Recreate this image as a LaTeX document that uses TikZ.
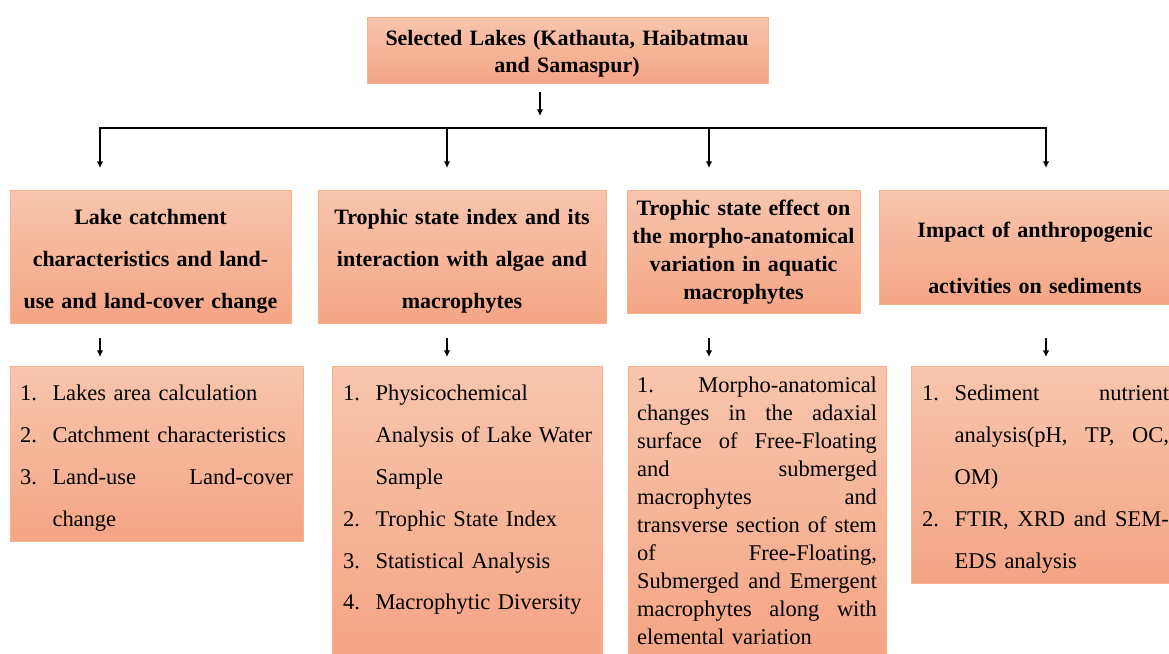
\documentclass[tikz,border=0pt]{standalone}
\usepackage{fontspec}
\setmainfont{Liberation Serif}
\usetikzlibrary{arrows.meta}

\definecolor{boxtop}{RGB}{248,197,174}
\definecolor{boxbot}{RGB}{244,165,132}
\definecolor{boxline}{RGB}{246,178,138}

\tikzset{
	box/.style={draw=boxline, line width=0.5pt, top color=boxtop, bottom color=boxbot, anchor=north west, inner sep=0pt},
	head/.style={font=\bfseries\fontsize{12.5}{#1}\selectfont, align=center, inner sep=0pt},
	list/.style={font=\fontsize{12.8}{#1}\selectfont, align=left, inner sep=0pt},
	arr/.style={-{Latex[length=3.8pt,width=3.8pt]}, line width=0.85pt}
}
\newcommand{\nr}[1]{\makebox[0.65cm][l]{#1}}
\newcommand{\ind}{\hspace*{0.65cm}}
\newcommand{\jl}[2]{\makebox[#1][s]{\spaceskip=0.25em plus 1fil\relax\xspaceskip=\spaceskip#2}}

\begin{document}
\begin{tikzpicture}[x=0.02cm, y=-0.02cm]
	\useasboundingbox (0,0) rectangle (1169,653);
	\clip (0,0) rectangle (1169,653);
	% boxes
	\node[box, minimum width=8.02cm, minimum height=1.32cm] (lakes) at (367,17) {};
	\node[box, minimum width=5.62cm, minimum height=2.66cm] (catch) at (10,190) {};
	\node[box, minimum width=5.76cm, minimum height=2.66cm] (tsi) at (318,190) {};
	\node[box, minimum width=4.66cm, minimum height=2.46cm] (morph) at (627,190) {};
	\node[box, minimum width=6.24cm, minimum height=2.28cm] (anthro) at (879,190) {};
	\node[box, minimum width=5.86cm, minimum height=3.50cm] (catchL) at (10,366) {};
	\node[box, minimum width=5.40cm, minimum height=5.88cm] (tsiL) at (332,366) {};
	\node[box, minimum width=5.16cm, minimum height=5.88cm] (morphL) at (628,366) {};
	\node[box, minimum width=5.60cm, minimum height=4.34cm] (anthroL) at (911,366) {};
	% headings
	\node[head=15.3, text width=8cm] (lakesT) at (567,53.5) {Selected Lakes (Kathauta, Haibatmau\\and Samaspur)};
	\node[head=23.8, text width=5.5cm] (catchT) at (150.5,261) {Lake catchment\\characteristics and land-\\use and land-cover change};
	\node[head=23.8, text width=5.6cm] (tsiT) at (462,261) {Trophic state index and its\\interaction with algae and\\macrophytes};
	\node[head=15.9, text width=4.6cm] (morphT) at (743.5,252) {Trophic state effect on\\the morpho-anatomical\\variation in aquatic\\macrophytes};
	\node[head=31.75, text width=6cm] (anthroT) at (1035,258) {Impact of anthropogenic\\activities on sediments};
	% lists
	\node[list=23.8, text width=5.46cm] (catchLT) at (156.5,458) {\nr{1.}Lakes area calculation\\
		\nr{2.}Catchment characteristics\\
		\nr{3.}\jl{4.81cm}{Land-use Land-cover}\\
		\ind change};
	\node[list=23.8, text width=4.98cm] (tsiLT) at (467.5,500) {\nr{1.}Physicochemical\\
		\ind\jl{4.33cm}{Analysis of Lake Water}\\
		\ind Sample\\
		\nr{2.}Trophic State Index\\
		\nr{3.}Statistical Analysis\\
		\nr{4.}Macrophytic Diversity};
	\node[list=15.9, text width=4.8cm] (morphLT) at (757,511) {\jl{4.8cm}{1. Morpho-anatomical}\\
		\jl{4.8cm}{changes in the adaxial}\\
		\jl{4.8cm}{surface of Free-Floating}\\
		\jl{4.8cm}{and submerged}\\
		\jl{4.8cm}{macrophytes and}\\
		\jl{4.8cm}{transverse section of stem}\\
		\jl{4.8cm}{of Free-Floating,}\\
		\jl{4.8cm}{Submerged and Emergent}\\
		\jl{4.8cm}{macrophytes along with}\\
		elemental variation};
	\node[list=23.8, text width=4.94cm] (anthroLT) at (1045.5,479) {\nr{1.}\jl{4.29cm}{Sediment nutrient}\\
		\ind\jl{4.29cm}{analysis(pH, TP, OC,}\\
		\ind OM)\\
		\nr{2.}\jl{4.29cm}{FTIR, XRD and SEM-}\\
		\ind EDS analysis};
	% connectors
	\coordinate (top0) at (540,92);
	\coordinate (top1) at (540,116);
	\draw[arr] (top0) -- (top1);
	\coordinate (busL) at (100,128);
	\coordinate (busR) at (1046,128);
	\draw[line width=1.1pt, line cap=rect] (busL) -- (busR);
	\foreach \x/\n in {100/1,447/2,709/3,1046/4}{
		\coordinate (up\n) at (\x,128);
		\coordinate (dn\n) at (\x,168);
		\draw[arr, line width=1.1pt] (up\n) -- (dn\n);
		\coordinate (s\n) at (\x,338);
		\coordinate (t\n) at (\x,357);
		\draw[arr] (s\n) -- (t\n);
	}
\end{tikzpicture}
\end{document}
